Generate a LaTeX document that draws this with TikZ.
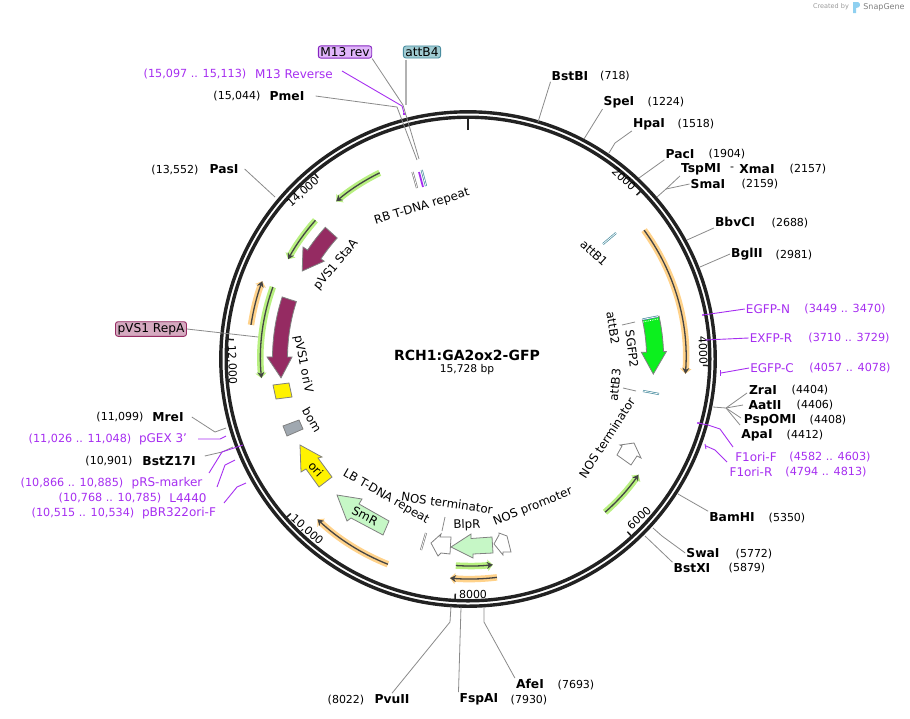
\documentclass[tikz,border=0pt]{standalone}
\usepackage{fontspec}
\setmainfont{DejaVu Sans}
\usetikzlibrary{arrows.meta}
\definecolor{ringdark}{HTML}{222222}
\definecolor{leadgray}{HTML}{8A8A8A}
\definecolor{primerpurple}{HTML}{A62EF0}
\definecolor{glowgreen}{HTML}{B8F080}
\definecolor{gloworange}{HTML}{FFD28A}
\definecolor{darkline}{HTML}{444444}
\definecolor{paleteal}{HTML}{A0CBD2}
\definecolor{darkteal}{HTML}{4A8DA0}
\definecolor{plum}{HTML}{952B62}
\definecolor{palegreen}{HTML}{C6F7C6}
\definecolor{logoblue}{HTML}{8FD0F0}
\definecolor{brightgreen}{HTML}{0CF01E}
\definecolor{bomgray}{HTML}{A0A8B0}
\begin{document}
\begin{tikzpicture}[x=1pt,y=1pt,yscale=-1,
    site/.style={font=\fontsize{12.3}{14}\selectfont\bfseries,inner sep=1pt},
    num/.style={font=\fontsize{11}{13}\selectfont,inner sep=1pt},
    primer/.style={font=\fontsize{12}{14}\selectfont,text=primerpurple,inner sep=1pt},
    primernum/.style={font=\fontsize{11.2}{13}\selectfont,text=primerpurple,inner sep=1pt},
    flabel/.style={font=\fontsize{11.8}{14}\selectfont,inner sep=0pt},
    ticklabel/.style={font=\fontsize{11}{13}\selectfont,inner sep=0pt},
    lead/.style={draw=leadgray,line width=0.8pt},
    plead/.style={draw=primerpurple,line width=0.9pt},
    pdot/.style={fill=primerpurple},
    tagbox/.style={font=\fontsize{12.2}{14}\selectfont,draw,rounded corners=2.5pt,line width=0.9pt,inner xsep=2pt,inner ysep=1.5pt},
    ring/.style={draw=ringdark,line width=3.4pt},
    greenarc/.style={draw=darkline,line width=1.3pt,-{Stealth[length=6pt,width=7pt]},
        preaction={draw=glowgreen,line width=6.5pt,-{Triangle[length=5pt,width=11pt]}}},
    orangearc/.style={draw=darkline,line width=1.3pt,-{Stealth[length=6pt,width=7pt]},
        preaction={draw=gloworange,line width=6.5pt,-{Triangle[length=5pt,width=11pt]}}},
    strip/.style={draw=darkteal,double=white,double distance=0.7pt,line width=0.7pt},
    graystrip/.style={draw=gray,double=white,double distance=0.7pt,line width=0.7pt},
    fshape/.style={draw=gray,line width=0.8pt,line join=miter}]
\useasboundingbox (0,0) rectangle (910,718);
\node[font=\fontsize{6.5}{8}\selectfont,text=gray!80,inner sep=0pt] (created) at (831,7) {Created by};
\node[font=\fontsize{8}{9}\selectfont,text=gray,inner sep=0pt] (snapgene) at (884,7) {SnapGene};
\fill[logoblue] (853,2) -- (858,2) .. controls (861,3) and (861,8) .. (856,8) -- (856,13) -- (853,13) -- cycle;

\draw[ring] (468,359) circle (247.2pt);
\draw[ring] (468,359) circle (241.8pt);
\begin{scope}[shift={(468,359)}]
\draw[draw=ringdark,line width=2.5pt] (-90:229pt) -- (-90:242pt);
\foreach \a in {-44.2,1.56,47.3,93.1,138.9,184.7,230.4}
    \draw[draw=ringdark,line width=1.5pt] (\a:235pt) -- (\a:242pt);
\end{scope}
\node[ticklabel,rotate=-43] (t2000) at (624,179) {2000};
\node[ticklabel,rotate=-88] (t4000) at (703,350) {4000};
\node[ticklabel,rotate=43] (t6000) at (639,518) {6000};
\node[ticklabel] (t8000) at (473,594) {8000};
\node[ticklabel,rotate=-41] (t10000) at (307,530) {10,000};
\node[ticklabel,rotate=-88] (t12000) at (232,365) {12,000};
\node[ticklabel,rotate=42] (t14000) at (303,192) {14,000};

\node[font=\fontsize{14}{16}\selectfont\bfseries,inner sep=0pt] (title) at (467,355) {RCH1:GA2ox2-GFP};
\node[font=\fontsize{10.7}{12}\selectfont,inner sep=0pt] (size) at (467,370) {15,728 bp};

\begin{scope}[shift={(470,358)}]
\draw[orangearc] (-36.3:216pt) arc[start angle=-36.3,end angle=4.2,radius=216pt];
\draw[greenarc] (244:206pt) arc[start angle=244,end angle=229.5,radius=206pt];
\draw[greenarc] (221.7:207pt) arc[start angle=221.7,end angle=208.5,radius=207pt];
\draw[greenarc] (199.8:209.5pt) arc[start angle=199.8,end angle=174.5,radius=209.5pt];
\draw[orangearc] (188.6:221.5pt) arc[start angle=188.6,end angle=200.3,radius=221.5pt];
\draw[greenarc] (48.8:205pt) arc[start angle=48.8,end angle=34.7,radius=205pt];
\draw[greenarc] (93.9:208pt) arc[start angle=93.9,end angle=83.7,radius=208pt];
\draw[orangearc] (83:221pt) arc[start angle=83,end angle=95.2,radius=221pt];
\draw[orangearc] (111.7:222pt) arc[start angle=111.7,end angle=133.4,radius=222pt];
\draw[fshape,fill=plum] (198:197.5pt) arc[start angle=198,end angle=180.3,radius=197.5pt]
    -- (180.3:203pt) -- (174:190pt) -- (180.3:178pt) -- (180.3:182.5pt)
    arc[start angle=180.3,end angle=198,radius=182.5pt] -- cycle;
\draw[fshape,fill=plum] (222.1:195pt) arc[start angle=222.1,end angle=213.6,radius=195pt]
    -- (213.6:200.5pt) -- (207.4:189pt) -- (213.6:175pt) -- (213.6:179pt)
    arc[start angle=213.6,end angle=222.1,radius=179pt] -- cycle;
\draw[fshape,fill=brightgreen] (-12.5:193.6pt) arc[start angle=-12.5,end angle=-1.9,radius=193.6pt]
    -- (-1.9:196.5pt) -- (5:184pt) -- (-1.9:171.5pt) -- (-1.9:176.6pt)
    arc[start angle=-1.9,end angle=-12.5,radius=176.6pt] -- cycle;
\end{scope}

\draw[strip] (603,244) -- (616,233);
\draw[strip] (642.5,319.5) -- (658,316.5);
\draw[white,densely dotted,line width=0.8pt] (643,322) -- (658,319);
\draw[strip] (643,391) -- (659,394);
\draw[graystrip] (412.5,172) -- (417,188);
\draw[draw=primerpurple,line width=1.8pt] (419,172) -- (423,187);
\draw[strip] (421.7,170) -- (426,186);
\draw[graystrip] (426,533) -- (421,550);

\draw[fshape,fill=yellow] (273,385) -- (289,383) -- (292,397) -- (276,399) -- cycle;
\draw[fshape,fill=bomgray] (283,426) -- (299,420) -- (303,429) -- (287,436) -- cycle;
\draw[fshape,fill=yellow] (300,445) -- (322,457) -- (318,458) -- (332,477) -- (319,487) -- (306,469) -- (301,472) -- cycle;
\draw[fshape,fill=palegreen] (337,495) -- (362,499) -- (359,504) -- (389,521) -- (383,535) -- (351,518) -- (347,521) -- cycle;
\draw[fshape,fill=palegreen] (451,547) -- (471,534) -- (471,538.5) -- (492,537) -- (493,553) -- (473,554) -- (473,558) -- cycle;
\draw[fshape,fill=white] (431,543) -- (441,534) -- (440,537) -- (451,537) -- (450,554) -- (441,553) -- (438,556) -- cycle;
\draw[fshape,fill=white] (494,544) -- (499,535) -- (499,533) -- (507,536) -- (511,552) -- (503,552) -- (503,555) -- cycle;
\draw[fshape,fill=white] (617,455) -- (622,446) -- (620,445) -- (634,443) -- (641,458) -- (637,456) -- (631,465) -- cycle;

\node[flabel,rotate=-43] (lb1) at (594,253) {attB1};
\node[flabel,rotate=-81] (lb2) at (613,328) {attB2};
\node[flabel,rotate=-83] (lsgfp) at (632,349) {SGFP2};
\node[flabel,rotate=84] (lb3) at (615,385) {attB3};
\node[flabel,rotate=57] (lnost) at (607,438) {NOS terminator};
\node[flabel,rotate=22] (lnosp) at (533,507) {NOS promoter};
\node[flabel,rotate=2] (lblpr) at (467,525) {BlpR};
\node[flabel,rotate=-8] (lnost2) at (447,503) {NOS terminator};
\node[flabel,rotate=-30] (llb) at (386,497) {LB T-DNA repeat};
\node[flabel,rotate=-28] (lsmr) at (365,516) {SmR};
\node[flabel,rotate=-48] (lori) at (316,469) {ori};
\node[flabel,rotate=-60] (lbom) at (312,420) {bom};
\node[flabel,rotate=-79] (loriv) at (303,364) {pVS1 oriV};
\node[flabel,rotate=50] (lstaa) at (336,265) {pVS1 StaA};
\node[flabel,rotate=17] (lrb) at (422,207) {RB T-DNA repeat};

\coordinate (b2from) at (622,325);
\coordinate (b2to) at (635,322);
\draw[lead] (b2from) -- (b2to);
\coordinate (b3from) at (623,388);
\coordinate (b3to) at (636,391);
\draw[lead] (b3from) -- (b3to);
\coordinate (nosfrom) at (445,517);
\coordinate (nosto) at (442,531);
\draw[lead] (nosfrom) -- (nosto);

\node[site] (bstbi) at (570,76) {BstBI};
\node[num] (bstbinum) at (615,76) {(718)};
\coordinate (bstbiend) at (538,122);
\draw[lead] (bstbi.south west) -- (bstbiend);
\node[site] (spei) at (619,102) {SpeI};
\node[num] (speinum) at (666,102) {(1224)};
\coordinate (speiend) at (584,139);
\draw[lead] (spei.south west) -- (speiend);
\node[site] (hpai) at (649,124) {HpaI};
\node[num] (hpainum) at (696,124) {(1518)};
\coordinate (hpaiend) at (609,153);
\draw[lead] (hpai.south west) -- (615,143) -- (hpaiend);
\node[site] (paci) at (680,154) {PacI};
\node[num] (pacinum) at (727,154) {(1904)};
\coordinate (paciend) at (639,178);
\draw[lead] (paci.south west) -- (paciend);
\node[site] (tspmi) at (701,169) {TspMI};
\node[num] (dash) at (732,169) {-};
\node[site] (xmai) at (757,169) {XmaI};
\node[num] (xmainum) at (808,169) {(2157)};
\coordinate (xmaiend) at (657,197);
\draw[lead] (tspmi.south west) -- (666,189) -- (xmaiend);
\node[site] (smai) at (708,184) {SmaI};
\node[num] (smainum) at (760,184) {(2159)};
\draw[lead] (smai.west) -- (666,189);
\node[site] (bbvci) at (735,222) {BbvCI};
\node[num] (bbvcinum) at (790,223) {(2688)};
\coordinate (bbvciend) at (687,240);
\draw[lead] (bbvci.south west) -- (bbvciend);
\node[site] (bglii) at (747,254) {BglII};
\node[num] (bgliinum) at (794,255) {(2981)};
\coordinate (bgliiend) at (700,267);
\draw[lead] (bglii.west) -- (bgliiend);

\node[primer] (egfpn) at (768,309) {EGFP-N};
\node[primernum] (egfpnnum) at (845,309) {(3449 .. 3470)};
\coordinate (egfpnend) at (703,315);
\draw[plead] (egfpn.west) -- (egfpnend);
\fill[pdot] (egfpnend) circle (1.2pt);
\node[primer] (exfpr) at (771,338) {EXFP-R};
\node[primernum] (exfprnum) at (849,338) {(3710 .. 3729)};
\coordinate (exfprend) at (705,340);
\draw[plead] (exfpr.west) -- (exfprend);
\node[primer] (egfpc) at (772,368) {EGFP-C};
\node[primernum] (egfpcnum) at (850,368) {(4057 .. 4078)};
\coordinate (egfpcend) at (721,373);
\draw[plead] (egfpc.west) -- (egfpcend);
\draw[plead] (720.5,370) -- (720.5,376);

\node[site] (zrai) at (763,390) {ZraI};
\node[num] (zrainum) at (810,390) {(4404)};
\node[site] (aatii) at (765,405) {AatII};
\node[num] (aatiinum) at (815,405) {(4406)};
\node[site] (pspomi) at (770,420) {PspOMI};
\node[num] (pspominum) at (828,420) {(4408)};
\node[site] (apai) at (757,435) {ApaI};
\node[num] (apainum) at (805,435) {(4412)};
\coordinate (fan) at (726,408);
\coordinate (fanend) at (713,407);
\draw[lead] (fanend) -- (fan);
\draw[lead] (fan) -- (747,393);
\draw[lead] (fan) -- (743,405);
\draw[lead] (fan) -- (741,418);
\draw[lead] (fan) -- (740,425);

\node[primer] (f1orif) at (756,457) {F1ori-F};
\node[primernum] (f1orifnum) at (830,457) {(4582 .. 4603)};
\coordinate (f1orifend) at (698,423);
\draw[plead] (733,447) -- (720,429) -- (708,425) -- (f1orifend);
\fill[pdot] (f1orifend) circle (1.2pt);
\node[primer] (f1orir) at (751,472) {F1ori-R};
\node[primernum] (f1orirnum) at (826,472) {(4794 .. 4813)};
\coordinate (f1orirend) at (706,446);
\draw[plead] (727,462) -- (715,450) -- (f1orirend);
\draw[plead] (705,444) -- (706,449);

\node[site] (bamhi) at (732,517) {BamHI};
\node[num] (bamhinum) at (787,518) {(5350)};
\coordinate (bamhiend) at (678,494);
\draw[lead] (bamhi.north west) -- (bamhiend);
\node[site] (swai) at (703,553) {SwaI};
\node[num] (swainum) at (754,554) {(5772)};
\coordinate (swaiend) at (653,528);
\draw[lead] (swai.west) -- (662,536) -- (swaiend);
\node[site] (bstxi) at (692,568) {BstXI};
\node[num] (bstxinum) at (747,568) {(5879)};
\coordinate (bstxiend) at (645,536);
\draw[lead] (bstxi.north west) -- (bstxiend);
\node[site] (afei) at (530,684) {AfeI};
\node[num] (afeinum) at (576,685) {(7693)};
\coordinate (afeiend) at (484,607);
\draw[lead] (afei.north west) -- (484,622) -- (afeiend);
\node[site] (fspai) at (479,699) {FspAI};
\node[num] (fspainum) at (529,700) {(7930)};
\coordinate (fspaiend) at (461,607);
\draw[lead] (fspai.north west) -- (fspaiend);
\node[site] (pvuii) at (392,699) {PvuII};
\node[num] (pvuiinum) at (346,700) {(8022)};
\coordinate (pvuiiend) at (451,606);
\draw[lead] (pvuii.north) -- (450,622) -- (pvuiiend);

\node[site] (pasi) at (224,169) {PasI};
\node[num] (pasinum) at (175,170) {(13,552)};
\coordinate (pasiend) at (275,197);
\draw[lead] ([xshift=5pt]pasi.east) -- (pasiend);
\node[site] (pmei) at (287,96) {PmeI};
\node[num] (pmeinum) at (237,96) {(15,044)};
\coordinate (pmeiend) at (417,160);
\draw[lead] ([xshift=10pt]pmei.east) -- (397,107) -- (pmeiend);
\node[primer] (m13rev) at (294,74) {M13 Reverse};
\node[primernum] (m13revnum) at (195,74) {(15,097 .. 15,113)};
\coordinate (m13revend) at (404,113);
\draw[plead] ([xshift=8pt,yshift=-3pt]m13rev.east) -- (402,106) -- (m13revend);
\fill[pdot] (403,113) rectangle (406,115);
\node[tagbox,draw=primerpurple!80!black,fill=primerpurple!35] (m13tag) at (345,52) {M13 rev};
\node[tagbox,draw=darkteal,fill=paleteal] (attb4tag) at (422,52) {attB4};
\coordinate (tagend) at (419,159);
\draw[lead] (m13tag.south east) -- (403,105) -- (tagend);
\draw[lead,line width=1.2pt,draw=gray!60] (406,59.5) -- (406,105);
\node[tagbox,draw=plum,fill=plum!40] (repatag) at (151,329) {pVS1 RepA};
\coordinate (repaend) at (258,337);
\draw[lead] (repatag.east) -- (repaend);

\node[site] (mrei) at (168,417) {MreI};
\node[num] (mreinum) at (120,417) {(11,099)};
\coordinate (mreiend) at (226,428);
\draw[lead] ([xshift=7pt]mrei.east) -- (215,432) -- (mreiend);
\node[primer] (pgex) at (163,439) {pGEX 3'};
\node[primernum] (pgexnum) at (80,439) {(11,026 .. 11,048)};
\coordinate (pgexend) at (226,436);
\draw[plead] ([xshift=10pt]pgex.east) -- (220,439) -- (pgexend);
\node[site] (bstz) at (169,461) {BstZ17I};
\node[num] (bstznum) at (109,461) {(10,901)};
\coordinate (bstzend) at (233,447);
\draw[lead] ([xshift=8pt,yshift=-5pt]bstz.east) -- (222,452) -- (bstzend);
\node[primer] (prs) at (167,483) {pRS-marker};
\node[primernum] (prsnum) at (72,483) {(10,866 .. 10,885)};
\coordinate (prsend) at (243,445);
\draw[plead] (209,473) -- (222,452) -- (prsend);
\node[primer] (l4440) at (188,498) {L4440};
\node[primernum] (l4440num) at (110,498) {(10,768 .. 10,785)};
\coordinate (l4440end) at (235,460);
\draw[plead] (217,487) -- (225,465) -- (l4440end);
\node[primer] (pbr) at (179,513) {pBR322ori-F};
\node[primernum] (pbrnum) at (83,513) {(10,515 .. 10,534)};
\coordinate (pbrend) at (246,483);
\draw[plead] (224,503) -- (237,487) -- (pbrend);
\end{tikzpicture}
\end{document}
